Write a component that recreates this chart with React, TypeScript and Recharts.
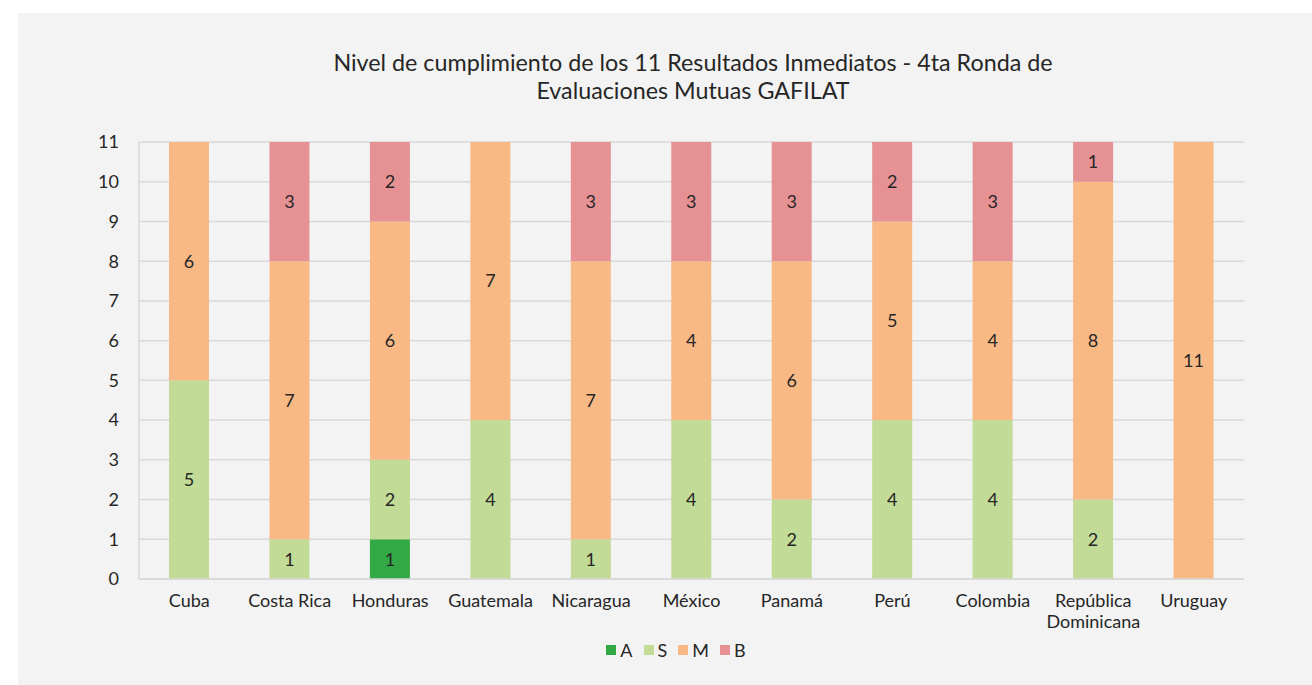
import { BarChart, Bar, XAxis, YAxis, CartesianGrid, LabelList } from "recharts";

const countries = [
  "Cuba",
  "Costa Rica",
  "Honduras",
  "Guatemala",
  "Nicaragua",
  "México",
  "Panamá",
  "Perú",
  "Colombia",
  "República Dominicana",
  "Uruguay",
];
const aValues = [0, 0, 1, 0, 0, 0, 0, 0, 0, 0, 0];
const sValues = [5, 1, 2, 4, 1, 4, 2, 4, 4, 2, 0];
const mValues = [6, 7, 6, 7, 7, 4, 6, 5, 4, 8, 11];
const bValues = [0, 3, 2, 0, 3, 3, 3, 2, 3, 1, 0];
const yTicks = [0, 1, 2, 3, 4, 5, 6, 7, 8, 9, 10, 11];

const series = [
  { key: "A", color: "#33a946" },
  { key: "S", color: "#c2db97" },
  { key: "M", color: "#f9b985" },
  { key: "B", color: "#e69295" },
];

const data = countries.map((name, i) => ({
  name,
  A: aValues[i],
  S: sValues[i],
  M: mValues[i],
  B: bValues[i],
}));

const font = "Lato, 'Open Sans', sans-serif";

const CountryTick = (props: any) => {
  const { x, y, payload } = props;
  const words: string[] = payload.value.length > 12 ? payload.value.split(" ") : [payload.value];
  return (
    <text x={x} y={y} textAnchor="middle" fill="#262626" fontSize={18} fontFamily={font}>
      {words.map((w, i) => (
        <tspan key={i} x={x} dy={i === 0 ? 16 : 21}>
          {w}
        </tspan>
      ))}
    </text>
  );
};

const hideZero = (v: any) => (v ? v : "");

export default function App() {
  return (
    <div style={{ position: "absolute", left: 0, top: 0, width: 1312, height: 685, background: "#ffffff" }}>
      <div
        style={{
          position: "absolute",
          left: 18,
          top: 13,
          width: 1294,
          height: 672,
          background: "#f3f3f3",
          fontFamily: font,
        }}
      >
        <div
          style={{
            position: "absolute",
            left: 0,
            top: 35,
            width: 1350,
            textAlign: "center",
            fontSize: 23.3,
            lineHeight: "28px",
            color: "#262626",
          }}
        >
          Nivel de cumplimiento de los 11 Resultados Inmediatos - 4ta Ronda de
          <br />
          Evaluaciones Mutuas GAFILAT
        </div>
        <BarChart
          width={1294}
          height={672}
          data={data}
          margin={{ top: 129, right: 68, bottom: 76, left: 0 }}
          barSize={40}
          style={{ position: "absolute", left: 0, top: 0 }}
        >
          <CartesianGrid vertical={false} stroke="#d9d9d9" strokeWidth={1.5} />
          <XAxis
            dataKey="name"
            height={30}
            tickLine={false}
            axisLine={{ stroke: "#d9d9d9", strokeWidth: 1.5 }}
            interval={0}
            tick={<CountryTick />}
            tickMargin={6}
          />
          <YAxis
            width={121}
            domain={[0, 11]}
            ticks={yTicks}
            interval={0}
            tickLine={false}
            axisLine={{ stroke: "#d9d9d9", strokeWidth: 1.5 }}
            tickMargin={14}
            tick={{ fill: "#262626", fontSize: 18, fontFamily: font }}
          />
          {series.map((s) => (
            <Bar key={s.key} dataKey={s.key} stackId="a" fill={s.color} isAnimationActive={false}>
              <LabelList
                dataKey={s.key}
                position="center"
                formatter={hideZero}
                fill="#262626"
                fontSize={18}
                fontFamily={font}
              />
            </Bar>
          ))}
        </BarChart>
        <div
          style={{
            position: "absolute",
            left: 0,
            top: 626,
            width: 1316,
            display: "flex",
            justifyContent: "center",
            gap: 11,
            fontSize: 18,
            color: "#262626",
          }}
        >
          {series.map((s) => (
            <div key={s.key} style={{ display: "flex", alignItems: "center", gap: 4 }}>
              <span style={{ display: "inline-block", width: 10, height: 10, background: s.color }} />
              <span>{s.key}</span>
            </div>
          ))}
        </div>
      </div>
    </div>
  );
}
